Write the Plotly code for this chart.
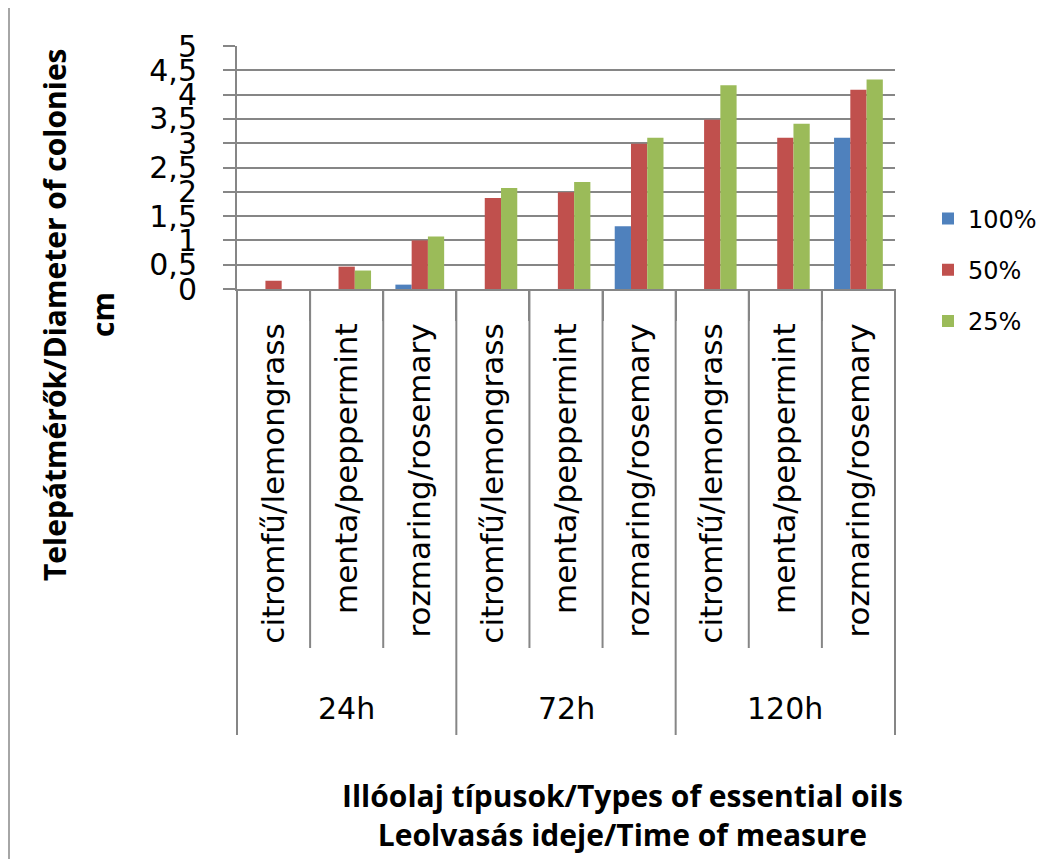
import plotly.graph_objects as go

times = ["24h", "72h", "120h"]
oils = ["citromfű/lemongrass", "menta/peppermint", "rozmaring/rosemary"]
series_names = ["100%", "50%", "25%"]
v100 = [0, 0, 0.09, 0, 0, 1.29, 0, 0, 3.11]
v50 = [0.17, 0.46, 1.00, 1.87, 1.99, 2.99, 3.48, 3.11, 4.10]
v25 = [0, 0.38, 1.08, 2.08, 2.20, 3.11, 4.19, 3.40, 4.31]
colors = ["#4F81BD", "#C0504D", "#9BBB59"]
y_ticks = [0, 0.5, 1, 1.5, 2, 2.5, 3, 3.5, 4, 4.5, 5]

# unique category keys (time + oil); tick text shows only the oil name
keys = [f"{t} | {o}" for t in times for o in oils]
key_text = [o for _ in times for o in oils]

fig = go.Figure()
for i, (name, vals, col) in enumerate(zip(series_names, [v100, v50, v25], colors)):
    fig.add_trace(go.Bar(x=keys, y=vals, name=name, marker_color=col,
                         marker_line_width=0, legendgroup=f"g{i}"))

OFF = 8  # page body margin
W, H = 1055 - OFF, 859 - OFF
L, R, T, B = 237 - OFF, 895 - OFF, 46 - OFF, 289 - OFF
pw, ph = R - L, B - T

def py(p):  # screen pixel -> paper y
    return (B - (p - OFF)) / ph

def px(p):  # screen pixel -> paper x
    return ((p - OFF) - L) / pw

grid = "#868686"
fig.update_layout(
    width=W, height=H,
    margin=dict(l=L, r=W - R, t=T, b=H - B, autoexpand=False),
    paper_bgcolor="white", plot_bgcolor="white",
    barmode="group", bargap=0.333, bargroupgap=0,
    separators=", ",
    font=dict(family="DejaVu Sans", color="black"),
    showlegend=True,
    legend=dict(x=px(928), y=py(270), xanchor="left", yanchor="middle",
                font=dict(size=24, family="DejaVu Sans"), bgcolor="rgba(0,0,0,0)",
                tracegroupgap=17, traceorder="grouped"),
    xaxis=dict(type="category", tickmode="array", tickvals=keys, ticktext=key_text,
               tickangle=-90, tickfont=dict(size=31, family="DejaVu Sans"),
               showline=True, linecolor=grid, linewidth=2, ticks="outside", tickson="boundaries",
               ticklen=30, tickcolor=grid, tickwidth=2, showgrid=False,
               ticklabelstandoff=20, automargin=False),
    yaxis=dict(range=[0, 5], tickvals=y_ticks, showgrid=True, gridcolor=grid, gridwidth=2,
               showline=True, linecolor=grid, linewidth=2, ticks="outside", ticklen=12,
               tickcolor=grid, tickwidth=2, tickfont=dict(size=30, family="DejaVu Sans"),
               ticklabelstandoff=20, zeroline=False, automargin=False),
)

n = len(keys)
shapes = []
for i in range(n + 1):
    outer = (i % len(oils) == 0)
    y1 = py(735) if outer else py(648)
    shapes.append(dict(type="line", xref="paper", yref="paper", x0=i / n, x1=i / n,
                       y0=0, y1=y1, line=dict(color=grid, width=2)))
# chart border
shapes.append(dict(type="line", xref="paper", yref="paper",
                   x0=px(9), x1=px(9), y0=py(5), y1=py(870),
                   line=dict(color="#a6a6a6", width=2)))
shapes.append(dict(type="line", xref="paper", yref="paper",
                   x0=px(9), x1=px(1060), y0=py(5), y1=py(5),
                   line=dict(color="#e6e6e6", width=1)))
fig.update_layout(shapes=shapes)

# group (time) labels under their middle category
for gi, t in enumerate(times):
    mid = keys[gi * len(oils) + len(oils) // 2]
    fig.add_annotation(text=t, xref="x", yref="paper", x=mid, y=py(708),
                       xanchor="center", yanchor="middle", showarrow=False,
                       font=dict(size=30, family="DejaVu Sans", color="black"))

title_font = dict(size=30, family="Open Sans", color="black")
fig.add_annotation(text="<b>Telepátmérők/Diameter of colonies</b>", textangle=-90,
                   xref="paper", yref="paper", x=px(54), y=py(315),
                   xanchor="center", yanchor="middle", showarrow=False, font=title_font)
fig.add_annotation(text="<b>cm</b>", textangle=-90,
                   xref="paper", yref="paper", x=px(102), y=py(315),
                   xanchor="center", yanchor="middle", showarrow=False, font=title_font)
fig.add_annotation(text="<b>Illóolaj típusok/Types of essential oils<br>Leolvasás ideje/Time of measure</b>",
                   xref="paper", yref="paper", x=px(622), y=py(815),
                   xanchor="center", yanchor="middle", showarrow=False, font=title_font,
                   align="center")

fig.write_html("out.html")
